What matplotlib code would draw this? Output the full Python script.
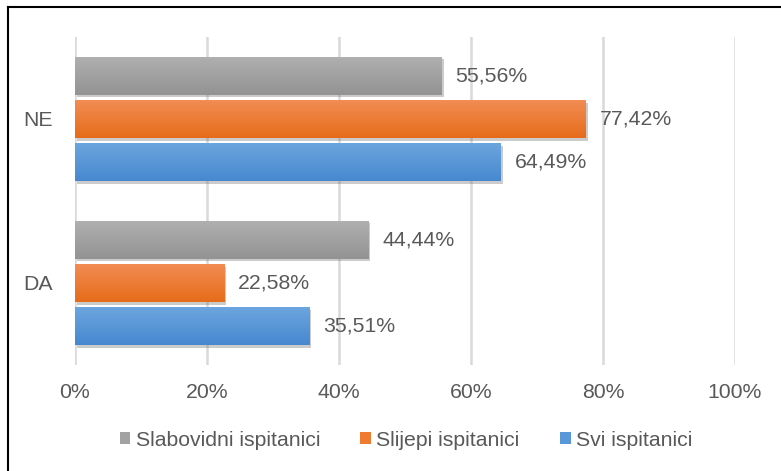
import matplotlib.pyplot as plt
import matplotlib.patheffects as pe
from matplotlib.colors import LinearSegmentedColormap
import numpy as np

plt.rcParams['font.family'] = ['Liberation Sans', 'DejaVu Sans']

categories = ['DA', 'NE']
series = ['Svi ispitanici', 'Slijepi ispitanici', 'Slabovidni ispitanici']
values = {
    'Svi ispitanici': [35.51, 64.49],
    'Slijepi ispitanici': [22.58, 77.42],
    'Slabovidni ispitanici': [44.44, 55.56],
}
# (top, bottom, legend)
colors = {
    'Svi ispitanici': ('#6da6df', '#4688cf', '#5898d8'),
    'Slijepi ispitanici': ('#f28d55', '#e66c1a', '#ef7b30'),
    'Slabovidni ispitanici': ('#b0b0b0', '#939393', '#a2a2a2'),
}
xticks = [0, 20, 40, 60, 80, 100]

TEXT = '#595959'
FS = 15.3

fig = plt.figure(figsize=(7.81, 4.71), dpi=100)
ax = fig.add_axes([75 / 781, 1 - 365 / 471, 660 / 781, 328 / 471])

cat_pos = np.array([0.5, 1.5])
step = 0.265
height = 0.232
grad = np.linspace(0, 1, 50).reshape(-1, 1)

for i, name in enumerate(series):
    y = cat_pos + (i - 1) * step
    top, bottom, mid = colors[name]
    bars = ax.barh(y, values[name], height=height, color=mid, zorder=3,
                   path_effects=[pe.SimplePatchShadow(offset=(1.5, -2), alpha=0.3, shadow_rgbFace='#555555'),
                                 pe.Normal()])
    cmap = LinearSegmentedColormap.from_list(name, [bottom, top])
    for b, v in zip(bars, values[name]):
        x0, y0 = b.get_x(), b.get_y()
        w, h = b.get_width(), b.get_height()
        im = ax.imshow(grad, cmap=cmap, aspect='auto', extent=(x0, x0 + w, y0, y0 + h),
                       origin='lower', zorder=4)
        im.set_clip_path(b)
        ax.annotate(f'{v:.2f}'.replace('.', ',') + '%', (v, y0 + h / 2),
                    xytext=(10, 0), textcoords='offset points', va='center', ha='left',
                    fontsize=FS, color=TEXT)
    bars.set_label(name)

ax.set_xlim(0, 100)
ax.set_ylim(0, 2)
ax.set_xticks(xticks)
ax.set_xticklabels([f'{t}%' for t in xticks])
ax.set_yticks(cat_pos)
ax.set_yticklabels(categories)
ax.tick_params(axis='x', length=0, pad=13, labelsize=FS, labelcolor=TEXT)
ax.tick_params(axis='y', length=0, pad=16, labelsize=FS, labelcolor=TEXT)
ax.grid(axis='x', color='#d9d9d9', linewidth=1.8, zorder=0)
for s in ax.spines.values():
    s.set_visible(False)

handles, labels = ax.get_legend_handles_labels()
order = [2, 1, 0]
leg = fig.legend([handles[k] for k in order], [labels[k] for k in order],
                 loc='center', bbox_to_anchor=(406 / 781, 1 - 440 / 471), ncol=3,
                 frameon=False, fontsize=FS, handlelength=0.5, handleheight=0.5,
                 handletextpad=0.25, columnspacing=1.9)
for t in leg.get_texts():
    t.set_color(TEXT)
for h in leg.legend_handles:
    h.set_path_effects([])

# left/top border
fig.add_artist(plt.Line2D([8 / 781, 8 / 781], [0, 1 - 7 / 471], color='black', lw=1.5))
fig.add_artist(plt.Line2D([8 / 781, 1], [1 - 7 / 471, 1 - 7 / 471], color='black', lw=1.5))

fig.savefig('out.png', dpi=100)
